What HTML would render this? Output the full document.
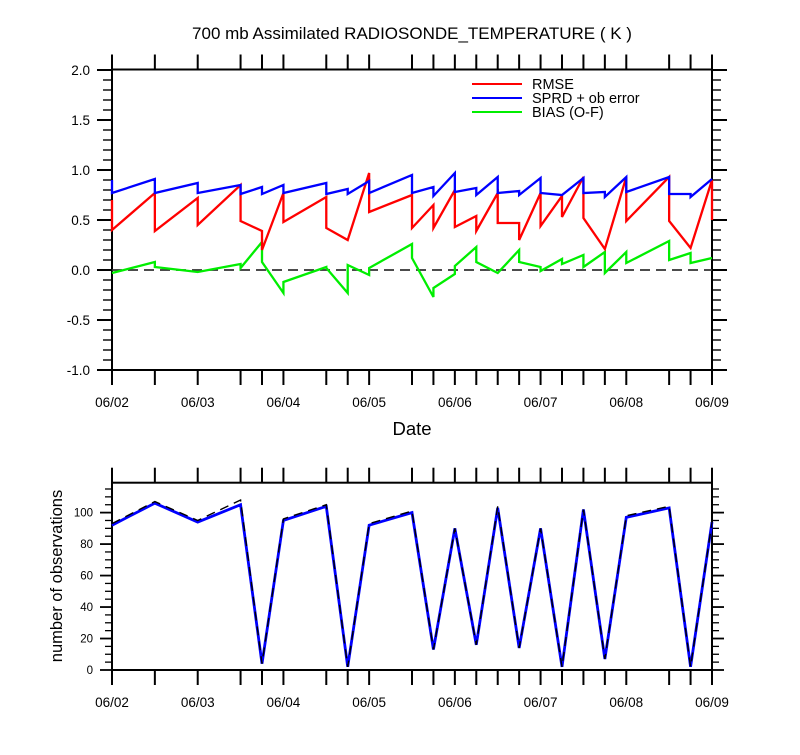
<!DOCTYPE html>
<html><head><meta charset="utf-8"><style>
body{margin:0;background:#fff}
svg text{font-family:"Liberation Sans",sans-serif;fill:#000}
</style></head><body>
<svg id="chart" width="800" height="750" xmlns="http://www.w3.org/2000/svg"></svg>
<script>
const hours=[0,12,24,36,42,48,60,66,72,84,90,96,102,108,114,120,126,132,138,144,156,162,168];
const dayLabels=["06/02","06/03","06/04","06/05","06/06","06/07","06/08","06/09"];
const rmseEnd=[0.70,0.77,0.72,0.85,0.39,0.77,0.73,0.30,0.97,0.75,0.65,0.80,0.54,0.77,0.47,0.77,0.74,0.93,0.21,0.93,0.93,0.22,0.90];
const rmseStart=[0.40,0.39,0.45,0.49,0.20,0.48,0.42,0.30,0.58,0.42,0.42,0.43,0.39,0.47,0.30,0.44,0.53,0.52,0.21,0.49,0.49,0.22,0.50];
const sprdEnd=[0.90,0.91,0.87,0.85,0.83,0.85,0.87,0.81,0.89,0.95,0.83,0.97,0.82,0.93,0.79,0.92,0.75,0.92,0.78,0.93,0.93,0.76,0.91];
const sprdStart=[0.77,0.77,0.77,0.76,0.76,0.77,0.76,0.76,0.77,0.77,0.74,0.78,0.75,0.77,0.75,0.77,0.75,0.77,0.73,0.78,0.76,0.73,0.91];
const biasEnd=[-0.03,0.08,-0.02,0.06,0.28,-0.23,0.03,-0.23,-0.05,0.26,-0.27,-0.04,0.23,-0.03,0.20,0.03,0.11,0.15,0.18,0.18,0.29,0.17,0.12];
const biasStart=[-0.03,0.03,-0.02,0.02,0.08,-0.12,0.02,0.05,0.02,0.12,-0.18,0.04,0.08,-0.03,0.08,-0.01,0.06,0.03,-0.03,0.07,0.10,0.07,0.12];
const obsAssim=[92,106,94,105,4,95,104,2,92,100,13,90,16,103,14,90,2,102,7,97,103,2,94];
const obsTotal=[93,107,95,108,4,96,105,2,93,101,13,90,16,104,14,90,2,102,7,98,104,2,94];
const yTicksTop=[-1.0,-0.5,0.0,0.5,1.0,1.5,2.0];
const yTicksBot=[0,20,40,60,80,100];

const svg=document.getElementById('chart');
const NS="http://www.w3.org/2000/svg";
function mk(tag,attrs,parent){const e=document.createElementNS(NS,tag);for(const k in attrs)e.setAttribute(k,attrs[k]);(parent||svg).appendChild(e);return e;}
const X0=112,X1=712;
const xs=h=>X0+(X1-X0)*h/168;
const yT=v=>370-(v+1)*100;
const yB=v=>670-v*(670-482.7)/119;

function txt(s,x,y,size,anchor,name){const t=mk('text',{x:x,y:y,'font-size':size,'text-anchor':anchor});t.textContent=s;


return t;}

txt("700 mb Assimilated RADIOSONDE_TEMPERATURE ( K )",412,39,17,"middle","chart-title");

function frame(top,bot,name){
  const r=mk('rect',{x:X0,y:top,width:X1-X0,height:bot-top,fill:'none',stroke:'#000','stroke-width':2});
  
  
  hours.forEach(h=>{
    mk('line',{x1:xs(h),x2:xs(h),y1:top,y2:top-15,stroke:'#000','stroke-width':2});
    mk('line',{x1:xs(h),x2:xs(h),y1:bot,y2:bot+15,stroke:'#000','stroke-width':2});
  });
  dayLabels.forEach((d,i)=>{txt(d,xs(i*24),bot+37,13.5,"middle","x-tick-label");});
}
frame(69.5,370,"top-plot-frame");
frame(482.7,670,"bottom-plot-frame");

for(let v=-1.0;v<=2.001;v+=0.1){
  const y=yT(v);const major=Math.abs(Math.round(v*10)%5)===0;
  const l=major?15:9;
  mk('line',{x1:X0,x2:X0-l,y1:y,y2:y,stroke:'#000','stroke-width':major?2:1.4});
  mk('line',{x1:X1,x2:X1+l,y1:y,y2:y,stroke:'#000','stroke-width':major?2:1.4});
}
yTicksTop.forEach(v=>txt(v.toFixed(1),90,yT(v)+5,13.5,"end","y-tick-label"));
for(let v=0;v<=115;v+=5){
  const y=yB(v);const major=v%20===0;const l=major?12:7;
  mk('line',{x1:X0,x2:X0-l,y1:y,y2:y,stroke:'#000','stroke-width':major?1.8:1.3});
  mk('line',{x1:X1,x2:X1+l,y1:y,y2:y,stroke:'#000','stroke-width':major?1.8:1.3});
}
yTicksBot.forEach(v=>txt(String(v),93,yB(v)+4,11.5,"end","y-tick-label-bottom"));

txt("Date",412,435,18.5,"middle","x-axis-title");
const yt=txt("number of observations",0,0,16.5,"middle","y-axis-title-bottom");
yt.setAttribute('transform','translate(62,576) rotate(-90)');

const z=mk('line',{x1:X0,x2:X1,y1:yT(0),y2:yT(0),stroke:'#333','stroke-width':1.8,'stroke-dasharray':'10,6'});



function saw(endArr,startArr,color,name){
  let d="M"+xs(hours[0])+","+yT(endArr[0])+" L"+xs(hours[0])+","+yT(startArr[0]);
  for(let i=1;i<hours.length;i++){d+=" L"+xs(hours[i])+","+yT(endArr[i])+" L"+xs(hours[i])+","+yT(startArr[i]);}
  const p=mk('path',{d:d,fill:'none',stroke:color,'stroke-width':2.3,'stroke-linejoin':'miter'});
  
  
}
saw(biasEnd,biasStart,'#00ee00','bias-line');
saw(rmseEnd,rmseStart,'#ff0000','rmse-line');
saw(sprdEnd,sprdStart,'#0000ff','sprd-line');

function line(arr,color,dash,w,name){
  const d=arr.map((v,i)=>(i?"L":"M")+xs(hours[i])+","+yB(v)).join(" ");
  const p=mk('path',{d:d,fill:'none',stroke:color,'stroke-width':w});
  if(dash)p.setAttribute('stroke-dasharray',dash);
  
  
}
line(obsAssim,'#0000ff',null,2.8,'obs-assimilated-line');
line(obsTotal,'#000',"9,6",1.4,'obs-total-line');

const leg=[["RMSE","#ff0000"],["SPRD + ob error","#0000ff"],["BIAS (O-F)","#00ee00"]];
leg.forEach((e,i)=>{
  const y=84+i*14;
  const l=mk('line',{x1:472,x2:522,y1:y,y2:y,stroke:e[1],'stroke-width':2});
  
  
  txt(e[0],532,y+5,14.5,"start","legend-entry");
});
</script>
</body></html>
